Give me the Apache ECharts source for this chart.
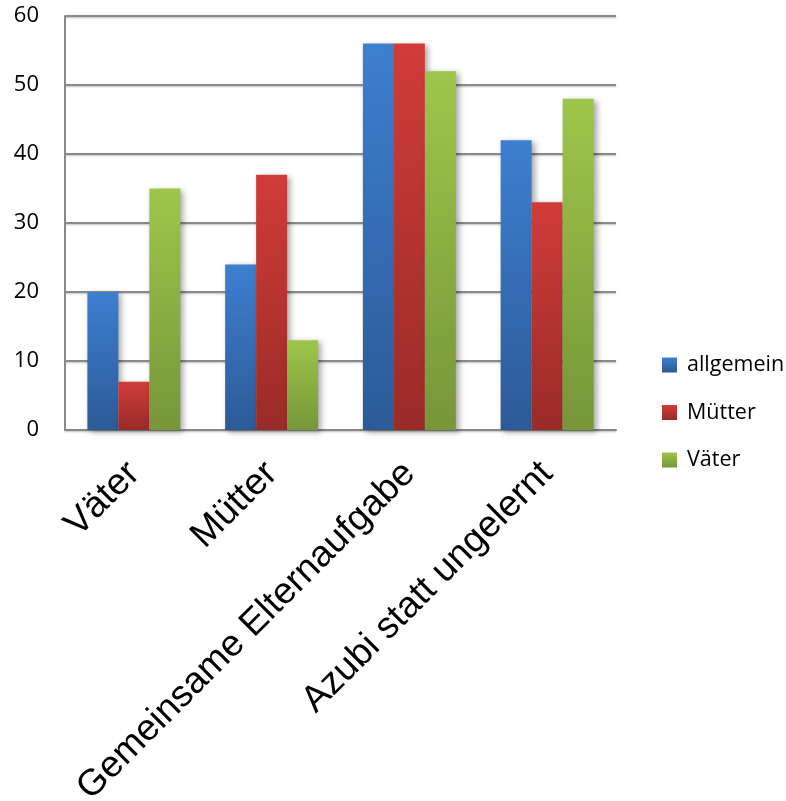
<!DOCTYPE html>
<html>
<head>
<meta charset="utf-8">
<script src="https://cdn.jsdelivr.net/npm/echarts@6/dist/echarts.min.js"></script>
<style>
  html, body { margin: 0; padding: 0; background: #fff; }
  #chart { width: 786px; height: 801px; }
</style>
</head>
<body>
<div id="chart"></div>
<script>
// Survey results per topic, three respondent groups
const categories = ['Väter', 'Mütter', 'Gemeinsame Elternaufgabe', 'Azubi statt ungelernt'];
const allgemein = [20, 24, 56, 42];
const muetter = [7, 37, 56, 33];
const vaeter = [35, 13, 52, 48];
const yTicks = { min: 0, max: 60, interval: 10 };

function grad(top, bottom) {
  return new echarts.graphic.LinearGradient(0, 0, 0, 1, [
    { offset: 0, color: top },
    { offset: 1, color: bottom }
  ]);
}

const barShadow = {
  shadowColor: 'rgba(0,0,0,0.35)',
  shadowBlur: 6,
  shadowOffsetX: 3,
  shadowOffsetY: 2
};

const chart = echarts.init(document.getElementById('chart'));
chart.setOption({
  animation: false,
  backgroundColor: '#ffffff',
  grid: { left: 65, right: 170, top: 16, bottom: 371, containLabel: false, outerBoundsMode: 'none' },
  legend: {
    orient: 'vertical',
    left: 657,
    top: 349,
    itemWidth: 15,
    itemHeight: 15,
    itemGap: 25.5,
    icon: 'rect',
    textStyle: { fontFamily: 'Open Sans', fontSize: 21.5, color: '#000', lineHeight: 22, padding: [0, 0, 0, 5] },
    data: ['allgemein', 'Mütter', 'Väter']
  },
  xAxis: {
    type: 'category',
    data: categories,
    axisLine: { show: true, lineStyle: { color: '#888', width: 2 } },
    axisTick: { show: false },
    axisLabel: {
      rotate: 45,
      interval: 0,
      margin: 38,
      fontFamily: 'Liberation Sans',
      fontSize: 37,
      color: '#000'
    }
  },
  yAxis: {
    type: 'value',
    min: yTicks.min,
    max: yTicks.max,
    interval: yTicks.interval,
    axisLine: { show: true, lineStyle: { color: '#888', width: 2 } },
    axisTick: { show: false },
    axisLabel: { margin: 26, fontFamily: 'Open Sans', fontSize: 22, color: '#000' },
    splitLine: {
      show: true,
      lineStyle: {
        color: '#8a8a8a', width: 2,
        shadowColor: 'rgba(0,0,0,0.25)', shadowBlur: 2, shadowOffsetY: 1
      }
    }
  },
  series: [
    {
      name: 'allgemein', type: 'bar', data: allgemein,
      barGap: '0%', barCategoryGap: '32.5%',
      itemStyle: Object.assign({ color: grad('#3d7fd0', '#2c5a97') }, barShadow)
    },
    {
      name: 'Mütter', type: 'bar', data: muetter,
      barGap: '0%', barCategoryGap: '32.5%',
      itemStyle: Object.assign({ color: grad('#d03c38', '#992b28') }, barShadow)
    },
    {
      name: 'Väter', type: 'bar', data: vaeter,
      barGap: '0%', barCategoryGap: '32.5%',
      itemStyle: Object.assign({ color: grad('#9ec64a', '#769639') }, barShadow)
    }
  ]
});
</script>
</body>
</html>
